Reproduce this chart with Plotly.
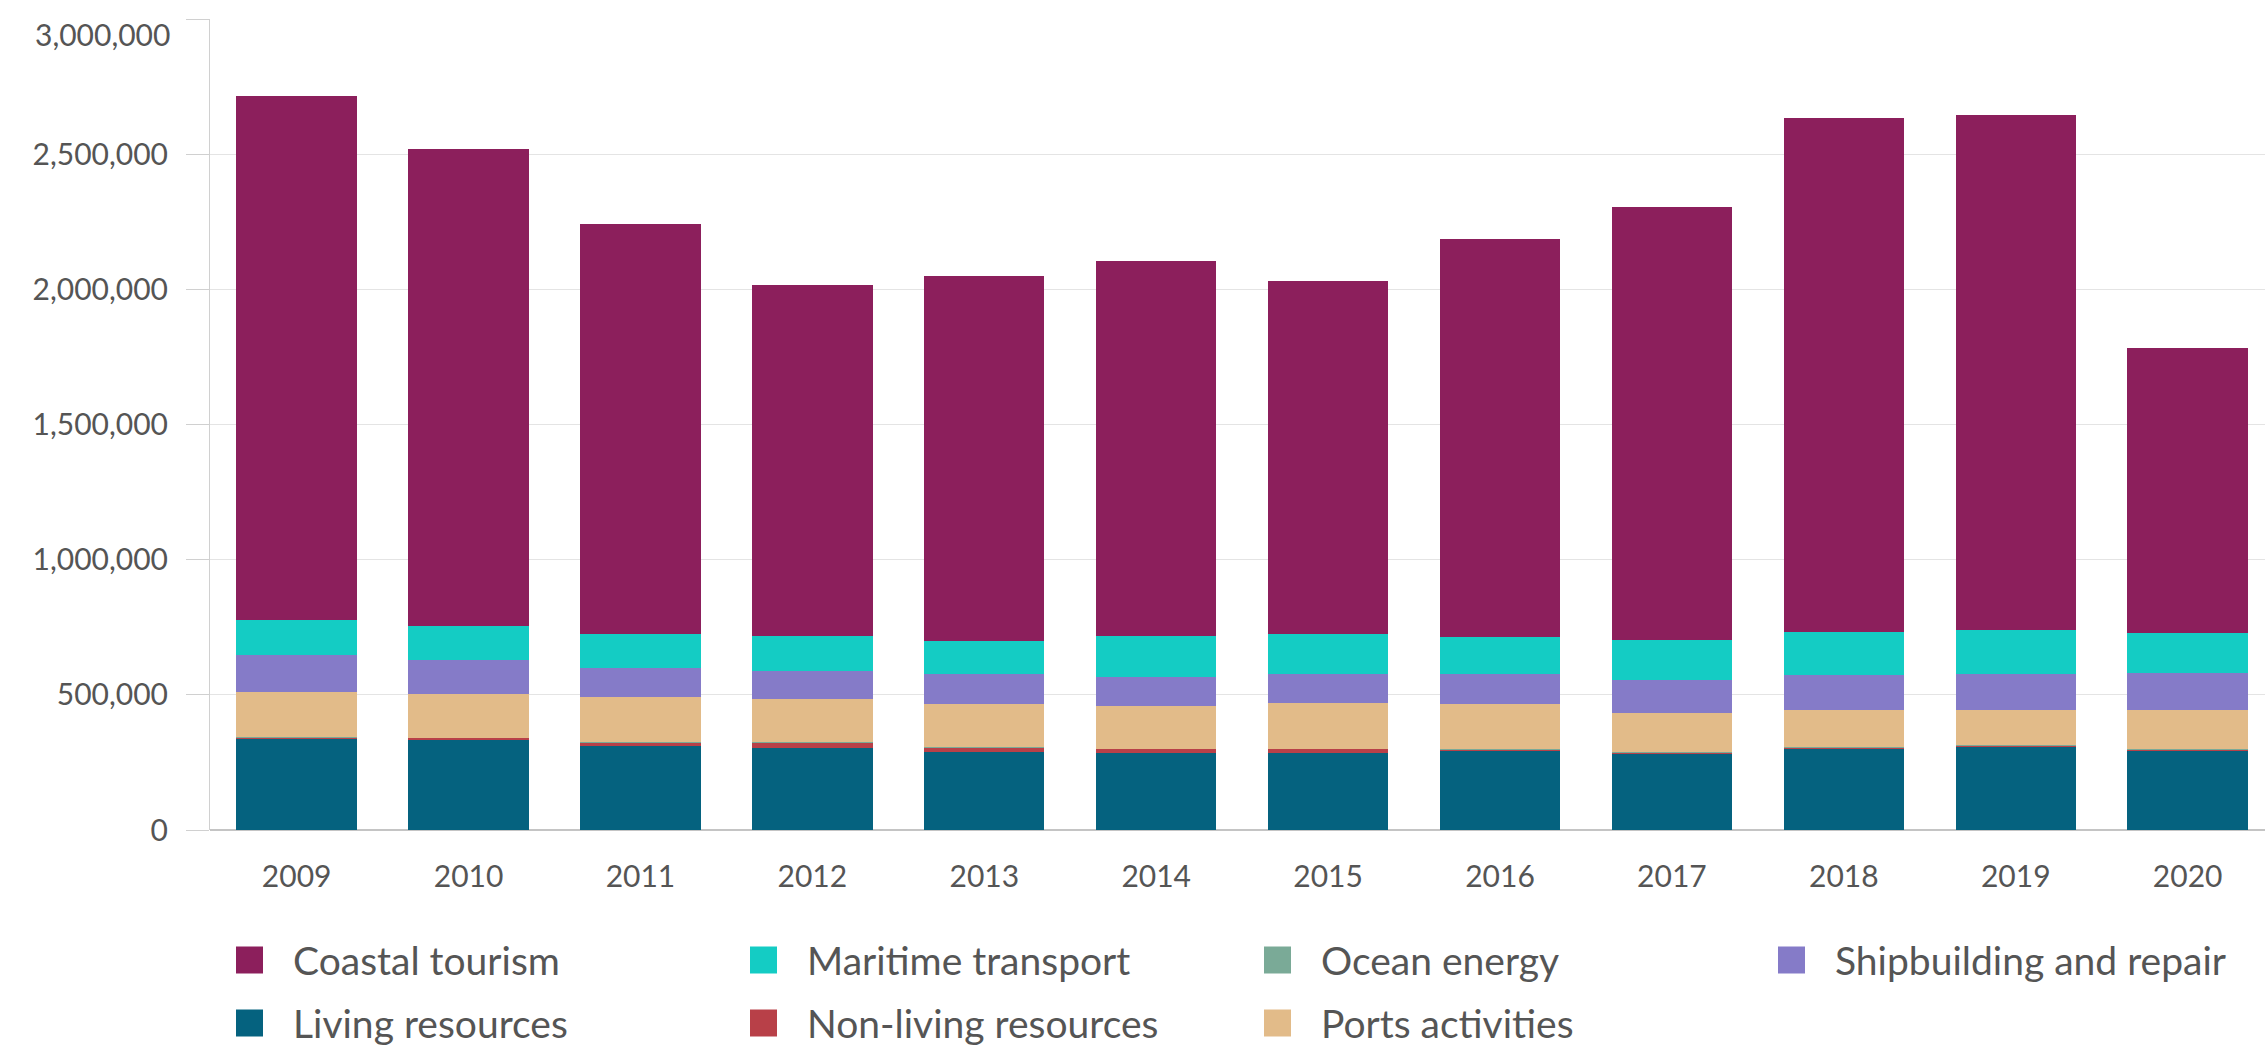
import plotly.graph_objects as go

years = ["2009", "2010", "2011", "2012", "2013", "2014", "2015", "2016", "2017", "2018", "2019", "2020"]

living_resources = [335000, 336000, 309000, 303000, 290000, 284000, 284000, 294000, 282000, 303000, 309000, 294000]
non_living_resources = [8000, 5000, 14000, 20000, 15000, 16000, 16000, 5000, 4000, 3000, 3000, 3000]
ocean_energy = [1000, 1000, 1000, 1000, 1000, 1000, 1000, 1000, 1000, 1000, 1000, 1000]
ports_activities = [168000, 162000, 167000, 160000, 161000, 156000, 168000, 167000, 145000, 138000, 132000, 147000]
shipbuilding_repair = [136000, 126000, 108000, 106000, 111000, 109000, 109000, 111000, 124000, 129000, 133000, 135000]
maritime_transport = [127000, 126000, 127000, 129000, 120000, 150000, 148000, 136000, 148000, 157000, 160000, 149000]
coastal_tourism = [1940000, 1764000, 1516000, 1297000, 1352000, 1389000, 1303000, 1473000, 1600000, 1901000, 1907000, 1055000]

# stacking order bottom -> top
series = [
    ("Living resources", living_resources, "#05627f"),
    ("Non-living resources", non_living_resources, "#b84048"),
    ("Ocean energy", ocean_energy, "#7aaa97"),
    ("Ports activities", ports_activities, "#e2bb89"),
    ("Shipbuilding and repair", shipbuilding_repair, "#857bc8"),
    ("Maritime transport", maritime_transport, "#14ccc4"),
    ("Coastal tourism", coastal_tourism, "#8c1f5c"),
]

# legend order (column-major, 2 rows)
legend_order = ["Coastal tourism", "Maritime transport", "Ocean energy", "Shipbuilding and repair",
                "Living resources", "Non-living resources", "Ports activities"]

ytick_vals = [0, 500000, 1000000, 1500000, 2000000, 2500000, 3000000]
ytick_text = ["0", "500,000", "1,000,000", "1,500,000", "2,000,000", "2,500,000", ""]

W, H = 2265, 1047
L, R, T, B = 210, 0, 19, 217
PW, PH = W - L - R, H - T - B


def px_x(px):
    return (px - L) / PW


def px_y(py):
    return (H - B - py) / PH


fig = go.Figure()
for name, vals, col in series:
    fig.add_trace(go.Bar(x=years, y=vals, name=name, marker=dict(color=col, line=dict(width=0)),
                         showlegend=False))

TXT = "#555555"
FONT = "Lato"

shapes = []
annotations = []
colors = {n: c for n, _, c in series}
for i, name in enumerate(legend_order):
    col_i = i % 4
    row_i = i // 4
    sq_left = 236 + col_i * 514
    cy = 960 + row_i * 63
    sq = 27
    shapes.append(dict(type="rect", xref="paper", yref="paper",
                       x0=px_x(sq_left), x1=px_x(sq_left + sq),
                       y0=px_y(cy + sq / 2), y1=px_y(cy - sq / 2),
                       fillcolor=colors[name], line=dict(width=0), layer="above"))
    annotations.append(dict(xref="paper", yref="paper", x=px_x(sq_left + 55), y=px_y(cy),
                            text=name, showarrow=False, xanchor="left", yanchor="middle",
                            font=dict(family=FONT, size=39, color=TXT)))

annotations.append(dict(xref="paper", yref="paper", x=px_x(172), y=px_y(34),
                        text="3,000,000", showarrow=False, xanchor="right", yanchor="middle",
                        font=dict(family=FONT, size=30, color=TXT)))

fig.update_layout(
    width=W, height=H,
    margin=dict(l=L, r=R, t=T, b=B, pad=0),
    barmode="stack",
    bargap=0.30,
    plot_bgcolor="white",
    paper_bgcolor="white",
    font=dict(family=FONT, size=30, color=TXT),
    shapes=shapes,
    annotations=annotations,
    xaxis=dict(
        type="category",
        range=[-0.504, 11.45],
        showgrid=False,
        ticks="",
        showline=False,
        tickfont=dict(family=FONT, size=30, color=TXT),
        ticklabelstandoff=26,
    ),
    yaxis=dict(
        range=[0, 3000000],
        tickvals=ytick_vals,
        ticktext=ytick_text,
        showgrid=True,
        gridcolor="#e4e4e4",
        gridwidth=1,
        zeroline=True,
        zerolinecolor="#c4c4c4",
        zerolinewidth=1.5,
        showline=True,
        linecolor="#d0d0d0",
        linewidth=1,
        ticks="outside",
        ticklen=23,
        tickcolor="#d0d0d0",
        tickfont=dict(family=FONT, size=30, color=TXT),
        ticklabelstandoff=12,
    ),
)

fig.write_html("out.html")
